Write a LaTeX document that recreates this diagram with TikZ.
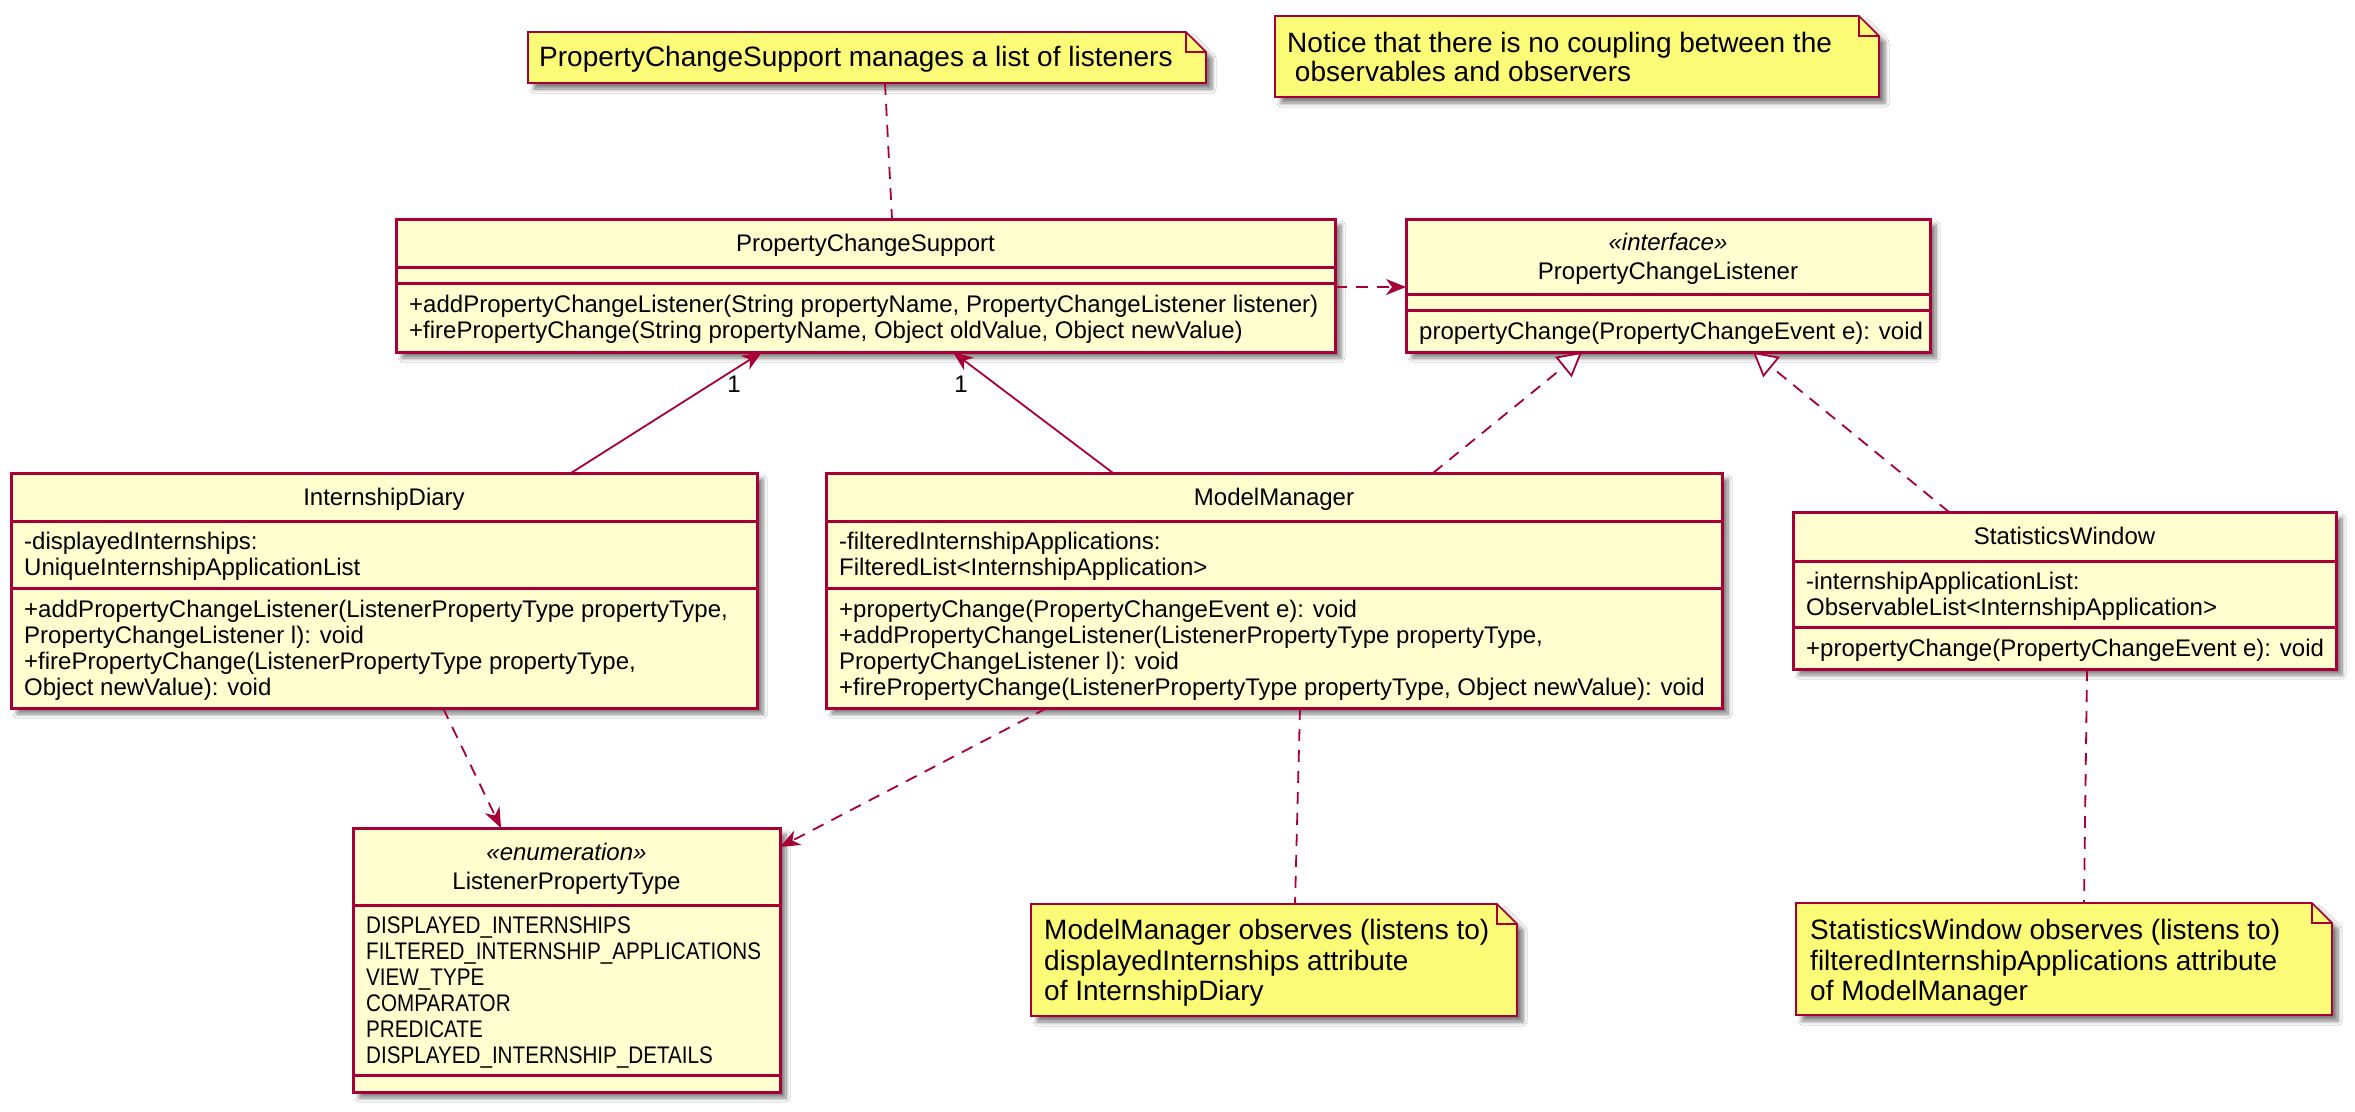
\documentclass[tikz,border=0pt]{standalone}
\usepackage{fontspec}
\setmainfont{Liberation Sans}
\usetikzlibrary{arrows.meta,calc,shadows.blur}
\definecolor{umlred}{HTML}{A80036}
\definecolor{classfill}{HTML}{FEFECE}
\definecolor{notefill}{HTML}{FBFB77}
\newcommand\cfont{\fontsize{24}{26}\selectfont}
\newcommand\nfont{\fontsize{28}{30.5}\selectfont}
\newcommand\enumx[1]{\scalebox{0.86}[1]{#1}}
\begin{document}
\begin{tikzpicture}[x=1pt,y=-1pt,
  shd/.style={blur shadow={shadow xshift=6pt,shadow yshift=-6pt,shadow blur radius=4pt,shadow blur steps=8,shadow opacity=50}},
  classbox/.style={draw=umlred,line width=3pt,fill=classfill,shd,inner sep=0pt,outer sep=0pt,anchor=north west},
  divider/.style={draw=umlred,line width=3pt},
  notebg/.style={inner sep=0pt,outer sep=0pt,anchor=north west},
  noteshape/.style={draw=umlred,line width=1.6pt,fill=notefill,shd,line join=miter},
  foldline/.style={draw=umlred,line width=1.6pt},
  cl/.style={anchor=base west,inner sep=0pt,font=\cfont},
  ct/.style={anchor=base,inner sep=0pt,font=\cfont},
  nl/.style={anchor=base west,inner sep=0pt,font=\nfont},
  conn/.style={draw=umlred,line width=1.8pt},
  dconn/.style={conn,dash pattern=on 12pt off 9pt},
  assochead/.style={-{Stealth[length=20pt,width=16pt,inset=6pt]}},
  realize/.style={-{Triangle[open,length=24pt,width=26pt,fill=white]}},
  multlabel/.style={inner sep=0pt,font=\cfont}
]
\fill[white] (0,0) rectangle (2355,1111);
\useasboundingbox (0,0) rectangle (2355,1111);

% ---------- Notes ----------
\node[notebg,minimum width=678pt,minimum height=51pt] (N1) at (528,32) {};
\path[noteshape] (N1.north west) -- ($(N1.north east)+(-20,0)$) -- ($(N1.north east)+(0,20)$) -- (N1.south east) -- (N1.south west) -- cycle;
\draw[foldline] ($(N1.north east)+(-20,0)$) -- ($(N1.north east)+(-20,20)$) -- ($(N1.north east)+(0,20)$);
\node[nl] (N1t) at (539,66) {PropertyChangeSupport manages a list of listeners};

\node[notebg,minimum width=604pt,minimum height=81pt] (N2) at (1275,16) {};
\path[noteshape] (N2.north west) -- ($(N2.north east)+(-20,0)$) -- ($(N2.north east)+(0,20)$) -- (N2.south east) -- (N2.south west) -- cycle;
\draw[foldline] ($(N2.north east)+(-20,0)$) -- ($(N2.north east)+(-20,20)$) -- ($(N2.north east)+(0,20)$);
\node[nl] (N2a) at (1287,52) {Notice that there is no coupling between the};
\node[nl] (N2b) at (1287,81) {\ observables and observers};

\node[notebg,minimum width=486pt,minimum height=112pt] (N3) at (1031,904) {};
\path[noteshape] (N3.north west) -- ($(N3.north east)+(-20,0)$) -- ($(N3.north east)+(0,20)$) -- (N3.south east) -- (N3.south west) -- cycle;
\draw[foldline] ($(N3.north east)+(-20,0)$) -- ($(N3.north east)+(-20,20)$) -- ($(N3.north east)+(0,20)$);
\node[nl] (N3a) at (1044,939) {ModelManager observes (listens to)};
\node[nl] (N3b) at (1044,970) {displayedInternships attribute};
\node[nl] (N3c) at (1044,1000) {of InternshipDiary};

\node[notebg,minimum width=536pt,minimum height=112pt] (N4) at (1796,903) {};
\path[noteshape] (N4.north west) -- ($(N4.north east)+(-20,0)$) -- ($(N4.north east)+(0,20)$) -- (N4.south east) -- (N4.south west) -- cycle;
\draw[foldline] ($(N4.north east)+(-20,0)$) -- ($(N4.north east)+(-20,20)$) -- ($(N4.north east)+(0,20)$);
\node[nl] (N4a) at (1810,939) {StatisticsWindow observes (listens to)};
\node[nl] (N4b) at (1810,970) {filteredInternshipApplications attribute};
\node[nl] (N4c) at (1810,1000) {of ModelManager};

% ---------- PropertyChangeSupport ----------
\node[classbox,minimum width=939pt,minimum height=133pt] (PCS) at (396,219) {};
\draw[divider] ($(PCS.north west)+(0,48)$) -- ($(PCS.north east)+(0,48)$);
\draw[divider] ($(PCS.north west)+(0,64)$) -- ($(PCS.north east)+(0,64)$);
\node[ct] (PCSt) at (865.5,251) {PropertyChangeSupport};
\node[cl] (PCSm1) at (409,312) {+addPropertyChangeListener(String propertyName, PropertyChangeListener listener)};
\node[cl] (PCSm2) at (409,338) {+firePropertyChange(String propertyName, Object oldValue, Object newValue)};

% ---------- PropertyChangeListener ----------
\node[classbox,minimum width=524pt,minimum height=133pt] (PCL) at (1406,219) {};
\draw[divider] ($(PCL.north west)+(0,75)$) -- ($(PCL.north east)+(0,75)$);
\draw[divider] ($(PCL.north west)+(0,91)$) -- ($(PCL.north east)+(0,91)$);
\node[ct] (PCLs) at (1668,250) {\itshape «interface»};
\node[ct] (PCLt) at (1668,279) {PropertyChangeListener};
\node[cl] (PCLm1) at (1419,339) {propertyChange(PropertyChangeEvent e): void};

% ---------- InternshipDiary ----------
\node[classbox,minimum width=746pt,minimum height=235pt] (ID) at (11,473) {};
\draw[divider] ($(ID.north west)+(0,48)$) -- ($(ID.north east)+(0,48)$);
\draw[divider] ($(ID.north west)+(0,115)$) -- ($(ID.north east)+(0,115)$);
\node[ct] (IDt) at (384,505) {InternshipDiary};
\node[cl] (IDa1) at (24,549) {-displayedInternships:};
\node[cl] (IDa2) at (24,575) {UniqueInternshipApplicationList};
\node[cl] (IDm1) at (24,617) {+addPropertyChangeListener(ListenerPropertyType propertyType,};
\node[cl] (IDm2) at (24,643) {PropertyChangeListener l): void};
\node[cl] (IDm3) at (24,669) {+firePropertyChange(ListenerPropertyType propertyType,};
\node[cl] (IDm4) at (24,695) {Object newValue): void};

% ---------- ModelManager ----------
\node[classbox,minimum width=896pt,minimum height=235pt] (MM) at (826,473) {};
\draw[divider] ($(MM.north west)+(0,48)$) -- ($(MM.north east)+(0,48)$);
\draw[divider] ($(MM.north west)+(0,115)$) -- ($(MM.north east)+(0,115)$);
\node[ct] (MMt) at (1274,505) {ModelManager};
\node[cl] (MMa1) at (839,549) {-filteredInternshipApplications:};
\node[cl] (MMa2) at (839,575) {FilteredList<InternshipApplication>};
\node[cl] (MMm1) at (839,617) {+propertyChange(PropertyChangeEvent e): void};
\node[cl] (MMm2) at (839,643) {+addPropertyChangeListener(ListenerPropertyType propertyType,};
\node[cl] (MMm3) at (839,669) {PropertyChangeListener l): void};
\node[cl] (MMm4) at (839,695) {+firePropertyChange(ListenerPropertyType propertyType, Object newValue): void};

% ---------- StatisticsWindow ----------
\node[classbox,minimum width=543pt,minimum height=157pt] (SW) at (1793,512) {};
\draw[divider] ($(SW.north west)+(0,49)$) -- ($(SW.north east)+(0,49)$);
\draw[divider] ($(SW.north west)+(0,115)$) -- ($(SW.north east)+(0,115)$);
\node[ct] (SWt) at (2064.5,544) {StatisticsWindow};
\node[cl] (SWa1) at (1806,589) {-internshipApplicationList:};
\node[cl] (SWa2) at (1806,615) {ObservableList<InternshipApplication>};
\node[cl] (SWm1) at (1806,656) {+propertyChange(PropertyChangeEvent e): void};

% ---------- ListenerPropertyType ----------
\node[classbox,minimum width=427pt,minimum height=264pt] (EN) at (353,828) {};
\draw[divider] ($(EN.north west)+(0,77)$) -- ($(EN.north east)+(0,77)$);
\draw[divider] ($(EN.north west)+(0,247)$) -- ($(EN.north east)+(0,247)$);
\node[ct] (ENs) at (566.5,860) {\itshape «enumeration»};
\node[ct] (ENt) at (566.5,889) {ListenerPropertyType};
\node[cl] (ENi1) at (366,933) {\enumx{DISPLAYED\_INTERNSHIPS}};
\node[cl] (ENi2) at (366,959) {\enumx{FILTERED\_INTERNSHIP\_APPLICATIONS}};
\node[cl] (ENi3) at (366,985) {\enumx{VIEW\_TYPE}};
\node[cl] (ENi4) at (366,1011) {\enumx{COMPARATOR}};
\node[cl] (ENi5) at (366,1037) {\enumx{PREDICATE}};
\node[cl] (ENi6) at (366,1063) {\enumx{DISPLAYED\_INTERNSHIP\_DETAILS}};

% ---------- Connectors ----------
\draw[dconn] ($(N1.south west)+(357,0)$) -- ($(PCS.north west)+(496,0)$);
\draw[dconn,assochead] ($(PCS.north east)+(0,68)$) -- ($(PCL.north west)+(0,68)$);
\draw[conn,assochead] ($(ID.north west)+(560,0)$) -- ($(PCS.south west)+(366,0)$);
\draw[conn,assochead] ($(MM.north west)+(287,0)$) -- ($(PCS.south west)+(557,0)$);
\node[multlabel] (L1) at (734,384) {1};
\node[multlabel] (L2) at (961,384) {1};
\draw[dconn,realize] ($(MM.north west)+(607,0)$) -- ($(PCL.south west)+(176,0)$);
\draw[dconn,realize] ($(SW.north west)+(156,0)$) -- ($(PCL.south west)+(347,0)$);
\draw[dconn,assochead] ($(ID.south west)+(432,0)$) -- ($(EN.north west)+(148,0)$);
\draw[dconn,assochead] ($(MM.south west)+(221,0)$) -- ($(EN.north east)+(0,19)$);
\draw[dconn] ($(MM.south west)+(474,0)$) -- ($(N3.north west)+(264,0)$);
\draw[dconn] ($(SW.south west)+(294,0)$) -- ($(N4.north west)+(288,0)$);
\end{tikzpicture}
\end{document}
